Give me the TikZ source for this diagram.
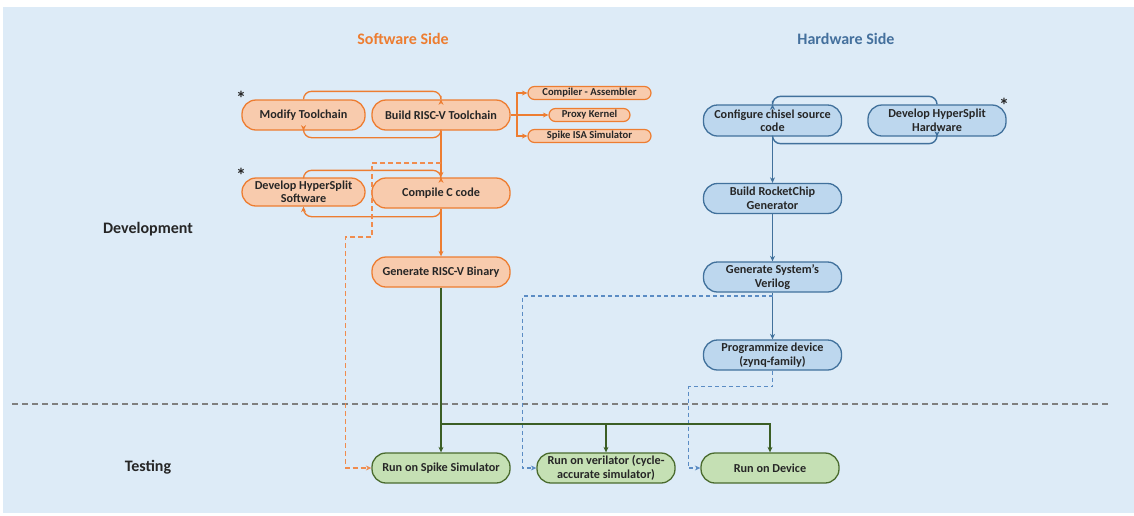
\documentclass[tikz,border=0pt]{standalone}
\usepackage{fontspec}
\setmainfont{Carlito}
\usetikzlibrary{arrows.meta}

\definecolor{bgblue}{HTML}{DDEBF7}
\definecolor{swfill}{HTML}{F8CBAD}
\definecolor{swdraw}{HTML}{ED7D31}
\definecolor{swdash}{HTML}{F08C4E}
\definecolor{hwfill}{HTML}{BDD7EE}
\definecolor{hwdraw}{HTML}{41719C}
\definecolor{hwdash}{HTML}{5B8CC4}
\definecolor{tsfill}{HTML}{C5E0B4}
\definecolor{tsdraw}{HTML}{4A6B2E}
\definecolor{tsline}{HTML}{3B5E25}
\definecolor{txt}{HTML}{262626}
\definecolor{hwtitle}{HTML}{44709D}
\definecolor{sep}{HTML}{7F7F7F}

\tikzset{
  box/.style={rounded corners=14pt, line width=1.3pt, minimum width=138pt,
    minimum height=30pt, inner sep=0pt, align=center, text=txt,
    font=\fontsize{12.2}{13.5}\selectfont\bfseries},
  swbox/.style={box, draw=swdraw, fill=swfill},
  swsmall/.style={swbox, rounded corners=6.5pt, minimum height=13pt,
    minimum width=123pt, line width=1.2pt, font=\fontsize{10.6}{12}\selectfont\bfseries},
  hwbox/.style={box, draw=hwdraw, fill=hwfill},
  tsbox/.style={box, draw=tsdraw, fill=tsfill},
  tip/.style={-{Stealth[length=5.5pt,width=5pt]}},
  swline/.style={draw=swdraw, line width=1.3pt, tip},
  swdashed/.style={draw=swdash, tip, dash pattern=on 5pt off 3pt, line width=1.4pt},
  hwline/.style={draw=hwdraw, line width=1.4pt, tip},
  hwdashed/.style={draw=hwdash, line width=1.3pt, tip, dash pattern=on 4pt off 3pt},
  tsline/.style={draw=tsline, line width=1.4pt, tip},
  loop/.style={rounded corners=8pt},
  star/.style={font=\fontsize{20}{20}\selectfont\bfseries, text=txt, inner sep=0pt},
  title/.style={font=\fontsize{16}{16}\selectfont\bfseries, inner sep=0pt},
}

\begin{document}
\begin{tikzpicture}[x=1pt, y=-1pt]
  % canvas
  \useasboundingbox (0,0) rectangle (1134,515);
  \fill[bgblue] (3,7) rectangle (1134,513);

  % headings
  \node[title, text=swdraw] (swtitle) at (403,39) {Software Side};
  \node[title, text=hwtitle] (hwtitle) at (846,39) {Hardware Side};
  \node[title, text=txt] (devlabel) at (148,229) {Development};
  \node[title, text=txt] (testlabel) at (148,467) {Testing};

  % phase separator
  \draw[sep, line width=1.4pt, dash pattern=on 6pt off 4pt] (12,404) -- (1108,404);

  % software side
  \node[swbox, minimum width=123pt] (modify) at (303.5,115) {Modify Toolchain};
  \node[swbox] (build) at (441,115) {Build RISC-V Toolchain};
  \node[swsmall] (compiler) at (589.5,93) {Compiler - Assembler};
  \node[swsmall, minimum width=81pt] (proxy) at (589.5,115) {Proxy Kernel};
  \node[swsmall] (spikeisa) at (589.5,136) {Spike ISA Simulator};
  \node[swbox, minimum width=123pt, minimum height=28pt] (devsw) at (303.5,192) {Develop HyperSplit\\Software};
  \node[swbox] (compile) at (441,193) {Compile C code};
  \node[swbox] (binary) at (441,272) {Generate RISC-V Binary};

  \node[star] (star1) at (241,98) {*};
  \node[star] (star2) at (241,175) {*};

  % hardware side
  \node[hwbox, minimum height=31pt] (chisel) at (772.5,120.5) {Configure chisel source\\code};
  \node[hwbox, minimum height=31pt] (devhw) at (937,120.5) {Develop HyperSplit\\Hardware};
  \node[hwbox] (rocket) at (772.5,198.5) {Build RocketChip\\Generator};
  \node[hwbox] (verilog) at (772.5,277) {Generate System’s\\Verilog};
  \node[hwbox] (program) at (772.5,355) {Programmize device\\(zynq-family)};
  \node[star] (star3) at (1004,105) {*};

  % testing
  \node[tsbox] (spike) at (441,468) {Run on Spike Simulator};
  \node[tsbox] (verilator) at (606,468) {Run on verilator (cycle-\\accurate simulator)};
  \node[tsbox] (device) at (770,468) {Run on Device};

  % toolchain loop
  \draw[swline, loop] (modify.north) -- ++(0,-8) -| (build.north);
  \draw[swline, loop] (build.south) -- ++(0,7) -| (modify.south);
  % toolchain outputs
  \coordinate (fork) at (517,115);
  \draw[swline] (build.east) -- (proxy.west);
  \draw[swline] (fork) |- (compiler.west);
  \draw[swline] (fork) |- (spikeisa.west);
  % software loop
  \draw[swline, loop] (devsw.north) -- ++(0,-7) -| (compile.north);
  \draw[swline, loop] (compile.south) -- ++(0,8) -| (devsw.south);
  % main software flow
  \draw[swline] (build.south) -- (compile.north);
  \draw[swline] (compile.south) -- (binary.north);
  \coordinate (swtap) at (441,163);
  \draw[swdashed] (swtap) -| (372,237) -| ([xshift=-26pt]spike.west) -- (spike.west);

  % hardware flow
  \draw[hwline, loop] (devhw.north) -- ++(0,-8) -| (chisel.north);
  \draw[hwline, loop] (chisel.south) -- ++(0,7) -| (devhw.south);
  \draw[hwline] (chisel.south) -- (rocket.north);
  \draw[hwline] (rocket.south) -- (verilog.north);
  \draw[hwline] (verilog.south) -- (program.north);

  % links into testing
  \coordinate (hwtap) at (772.5,296);
  \draw[hwdashed] (hwtap) -| ([xshift=-14pt]verilator.west) -- (verilator.west);
  \draw[hwdashed] (program.south) -- ++(0,16) -| ([xshift=-12pt]device.west) -- (device.west);

  \coordinate (split) at (441,424);
  \draw[tsline] (binary.south) -- (spike.north);
  \draw[tsline] (split) -| (device.north);
  \draw[tsline] (split -| verilator.north) -- (verilator.north);
\end{tikzpicture}
\end{document}
